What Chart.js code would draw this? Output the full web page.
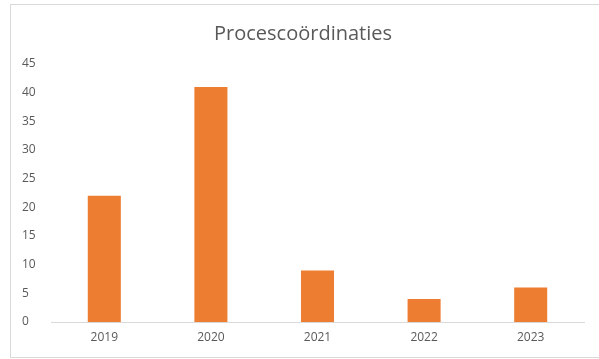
<!DOCTYPE html>
<html>
<head>
<meta charset="utf-8">
<script src="https://cdn.jsdelivr.net/npm/chart.js@4"></script>
<style>
  body { margin: 0; background: #fff; }
  #frame {
    position: absolute; left: 10px; top: 4px;
    width: 589px; height: 352px;
    border: 1px solid #d9d9d9; border-right: none;
  }
</style>
</head>
<body>
<div id="frame"><canvas id="myChart" width="589" height="352"></canvas></div>
<script>
// Data
const years = ['2019', '2020', '2021', '2022', '2023'];
const counts = [22, 41, 9, 4, 6];
const yTicks = [0, 5, 10, 15, 20, 25, 30, 35, 40, 45];

const ctx = document.getElementById('myChart').getContext('2d');

window.myChart = new Chart(ctx, {
    type: 'bar',
    data: {
        labels: years,
        datasets: [{
            label: 'Procescoördinaties',
            data: counts,
            backgroundColor: '#ED7D31',
            borderWidth: 0,
            categoryPercentage: 1,
            barPercentage: 0.31
        }]
    },
    options: {
        responsive: false,
        animation: false,
        layout: { padding: { left: 11, right: 16, top: 0, bottom: 0 } },
        plugins: {
            legend: { display: false },
            tooltip: { enabled: false },
            title: {
                display: true,
                text: 'Procescoördinaties',
                color: '#595959',
                font: { family: 'Open Sans', size: 20, weight: 'normal' },
                padding: { top: 17, bottom: 18 }
            }
        },
        scales: {
            x: {
                grid: { display: false, drawTicks: false },
                border: { display: true, color: '#d9d9d9', width: 1 },
                ticks: {
                    color: '#595959',
                    font: { family: 'Open Sans', size: 12 },
                    padding: 8
                },
                afterFit: function(scale) { scale.height = 35; }
            },
            y: {
                min: yTicks[0],
                max: yTicks[yTicks.length - 1],
                grid: { display: false, drawTicks: false },
                border: { display: false },
                ticks: {
                    stepSize: 5,
                    color: '#595959',
                    font: { family: 'Open Sans', size: 12 },
                    crossAlign: 'far'
                },
                afterFit: function(scale) { scale.width = 29; }
            }
        }
    }
});
</script>
</body>
</html>
